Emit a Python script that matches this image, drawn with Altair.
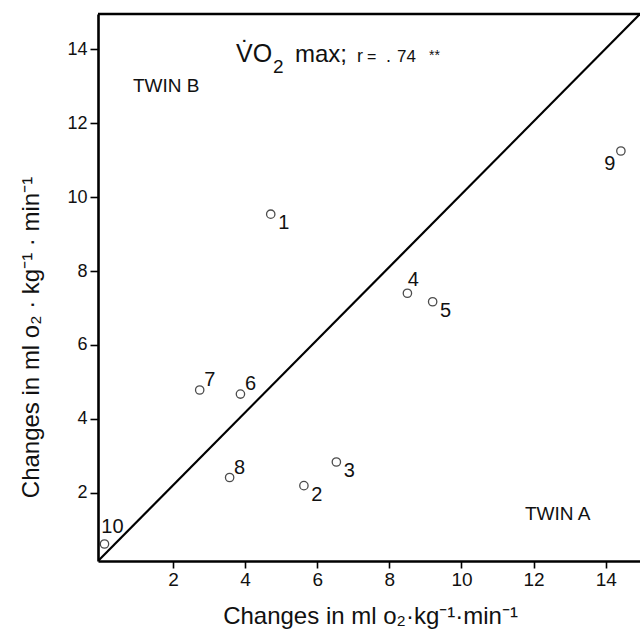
import altair as alt
import pandas as pd

# ---- data ----
subject = [1, 2, 3, 4, 5, 6, 7, 8, 9, 10]
twin_a = [4.71, 5.63, 6.53, 8.50, 9.20, 3.87, 2.74, 3.57, 14.42, 0.10]
twin_b = [9.54, 2.19, 2.83, 7.40, 7.17, 4.67, 4.78, 2.41, 11.25, 0.61]
label_group = ["lr", "lr", "lr", "up", "lr", "ur", "ur", "ur", "ul", "ur10"]
x_ticks = [2, 4, 6, 8, 10, 12, 14]
y_ticks = [2, 4, 6, 8, 10, 12, 14]
x_range = [-0.08, 14.95]
y_range = [0.15, 14.96]

df = pd.DataFrame({"subject": subject, "a": twin_a, "b": twin_b,
                   "label": [str(s) for s in subject], "grp": label_group})
# the hand-drawn line of equality runs corner to corner of the frame
diag = pd.DataFrame({"a": x_range, "b": y_range})

W, H = 542, 547
FONT = "Liberation Sans"
x_title = "Changes in ml  o\u2082\u00b7kg\u207b\u00b9\u00b7min\u207b\u00b9"
y_title = "Changes in  ml  o\u2082 \u00b7 kg\u207b\u00b9 \u00b7 min\u207b\u00b9"

xs = alt.Scale(domain=x_range, nice=False, zero=False)
ys = alt.Scale(domain=y_range, nice=False, zero=False)

base = alt.Chart(df)

common = dict(grid=False, tickWidth=1.6, tickColor="black", domainColor="black",
              domainWidth=2.6, labelFont=FONT, labelColor="#111",
              titleFont=FONT, titleFontSize=24, titleFontWeight="normal", titleColor="#111")

xenc = alt.X("a:Q", scale=xs, axis=alt.Axis(
    values=x_ticks, title=x_title, tickSize=7, labelFontSize=19, labelPadding=2,
    titleX=272, titleY=62, titleBaseline="alphabetic", titleAlign="center", **common))
yenc = alt.Y("b:Q", scale=ys, axis=alt.Axis(
    values=y_ticks, title=y_title, tickSize=8, labelFontSize=18, labelPadding=3,
    titleX=-60, titleY=323, titleBaseline="alphabetic", titleAlign="center",
    titleAngle=270, **common))

points = base.mark_point(shape="circle", size=70, filled=False,
                         stroke="black", strokeWidth=1.3).encode(x=xenc, y=yenc)

line = alt.Chart(diag).mark_line(color="black", strokeWidth=2.2, clip=True).encode(
    x=alt.X("a:Q", scale=xs), y=alt.Y("b:Q", scale=ys))

offsets = {"lr": (13, 9), "up": (6, -13), "ur": (10, -10), "ul": (-11, 13), "ur10": (8, -17)}
label_layers = []
for g, (dx, dy) in offsets.items():
    label_layers.append(
        base.transform_filter(alt.datum.grp == g).mark_text(
            dx=dx, dy=dy, fontSize=20, font=FONT, color="#111", align="center", baseline="middle"
        ).encode(x=alt.X("a:Q", scale=xs), y=alt.Y("b:Q", scale=ys), text="label:N"))

ann = alt.Chart(pd.DataFrame({"k": [0]}))
def note(txt, x, y, size, align="left", baseline="alphabetic"):
    return ann.mark_text(text=txt, x=x, y=y, fontSize=size, font=FONT, color="#111",
                         align=align, baseline=baseline)

notes = [
    note("V\u0307O", 138, 48, 25),
    note("2", 175, 59, 19),
    note("max;", 197, 48, 24),
    note("r", 259, 48, 18),
    note("=", 269, 48, 16),
    note(".", 288, 48, 18),
    note("74", 299, 48, 17),
    note("**", 331, 46, 14),
    note("TWIN B", 35, 78, 19),
    note("TWIN A", 427, 506, 19),
]

top = ann.mark_rule(color="black", strokeWidth=2.6).encode(
    x=alt.value(0), x2=alt.value(W), y=alt.value(0))

chart = alt.layer(line, points, *label_layers, top, *notes).properties(
    width=W, height=H,
    autosize=alt.AutoSizeParams(type="none"),
    padding={"left": 98, "top": 14, "right": 0, "bottom": 76},
).configure_view(stroke=None).configure(background="white")

chart.save("out.html", embed_options={"renderer": "svg", "actions": False})
